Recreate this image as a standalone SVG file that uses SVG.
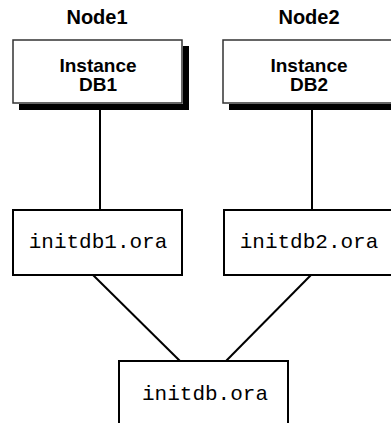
<svg xmlns="http://www.w3.org/2000/svg" width="391" height="423" viewBox="0 0 391 423">
<style>
.lbl{font-family:"Liberation Sans",Arial,sans-serif;font-weight:bold;font-size:20px;fill:#000;text-anchor:middle}
.ilbl{font-family:"Liberation Sans",Arial,sans-serif;font-weight:bold;font-size:19px;fill:#000;text-anchor:middle}
.mono{font-family:"Liberation Mono","Courier New",monospace;font-size:21px;fill:#000;text-anchor:middle}
.box{fill:#fff;stroke:#000;stroke-width:2}
.tbox{fill:#fff;stroke:#333;stroke-width:1.5}
.shadow{fill:#000;stroke:none}
.conn{stroke:#000;stroke-width:2;fill:none}
</style>
<rect width="391" height="423" fill="#fff"/>
<g id="connectors">
<line class="conn" x1="100" y1="109" x2="100" y2="210"/>
<line class="conn" x1="312" y1="109" x2="312" y2="210"/>
<line class="conn" x1="93" y1="275" x2="180" y2="361"/>
<line class="conn" x1="311" y1="275" x2="226" y2="361"/>
</g>
<g id="node1-label"><text class="lbl" x="97" y="24">Node1</text></g>
<g id="node2-label"><text class="lbl" x="309" y="24">Node2</text></g>
<g id="instance-db1">
<rect class="tbox" x="13" y="40" width="169" height="63"/>
<polygon class="shadow" points="183,46 189,46 189,110 19,110 19,104 183,104"/>
<text class="ilbl" x="98" y="72">Instance</text>
<text class="ilbl" x="98" y="91">DB1</text>
</g>
<g id="instance-db2">
<rect class="tbox" x="223" y="40" width="169" height="63"/>
<polygon class="shadow" points="393,46 399,46 399,110 229,110 229,104 393,104"/>
<text class="ilbl" x="309" y="72">Instance</text>
<text class="ilbl" x="309" y="91">DB2</text>
</g>
<g id="initdb1">
<rect class="box" x="13" y="210" width="169" height="65"/>
<text class="mono" x="98" y="248">initdb1.ora</text>
</g>
<g id="initdb2">
<rect class="box" x="224" y="210" width="169" height="65"/>
<text class="mono" x="309" y="248">initdb2.ora</text>
</g>
<g id="initdb">
<rect class="box" x="119" y="361" width="169" height="70"/>
<text class="mono" x="205" y="400">initdb.ora</text>
</g>
</svg>
